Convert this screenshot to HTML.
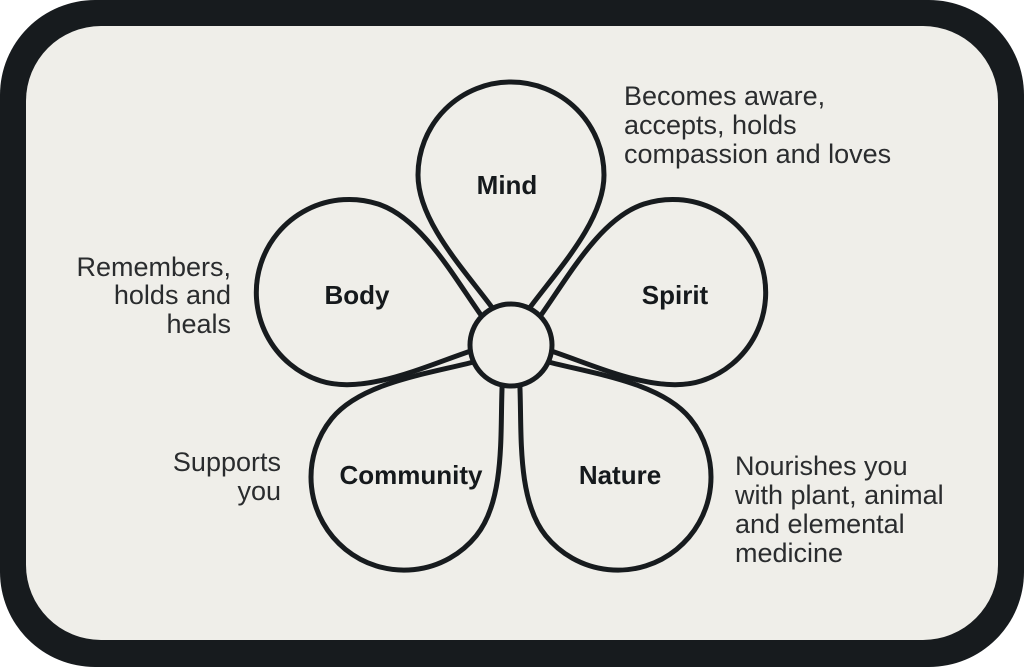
<!DOCTYPE html>
<html><head><meta charset="utf-8"><style>
html,body{margin:0;padding:0;background:#fff}
svg{display:block}
.t{font-family:"Liberation Sans",sans-serif;font-size:27px;fill:#2a2c2e}
.b{font-family:"Liberation Sans",sans-serif;font-size:26px;font-weight:bold;fill:#15191c}
</style></head><body>
<svg width="1024" height="667" viewBox="0 0 1024 667" xmlns="http://www.w3.org/2000/svg">
<rect x="0" y="0" width="1024" height="667" rx="95" fill="#171b1e"/>
<rect x="26" y="26" width="972" height="614" rx="75" fill="#efeee9"/>
<defs>
<path id="p" d="M0,-8 C-20,-50 -93,-112 -93,-170 A93,93 0 1 1 93,-170 C93,-112 20,-50 0,-8 Z" fill="#efeee9" stroke="#171b1e" stroke-width="5" stroke-linejoin="round"/>
</defs>
<g transform="translate(511,345)">
<use href="#p" transform="rotate(0)"/>
<use href="#p" transform="rotate(72)"/>
<use href="#p" transform="rotate(141)"/>
<use href="#p" transform="rotate(-141)"/>
<use href="#p" transform="rotate(-72)"/>
<circle cx="0" cy="0" r="41" fill="#efeee9" stroke="#171b1e" stroke-width="5"/>
</g>
<text class="b" x="507" y="194" text-anchor="middle">Mind</text>
<text class="b" x="357" y="304" text-anchor="middle">Body</text>
<text class="b" x="675" y="304" text-anchor="middle">Spirit</text>
<text class="b" x="411" y="484" text-anchor="middle">Community</text>
<text class="b" x="620" y="484" text-anchor="middle">Nature</text>
<text class="t" x="624" y="105">Becomes aware,</text>
<text class="t" x="624" y="134">accepts, holds</text>
<text class="t" x="624" y="163">compassion and loves</text>
<text class="t" x="231" y="276" text-anchor="end">Remembers,</text>
<text class="t" x="231" y="304" text-anchor="end">holds and</text>
<text class="t" x="231" y="333" text-anchor="end">heals</text>
<text class="t" x="281" y="471" text-anchor="end">Supports</text>
<text class="t" x="281" y="500" text-anchor="end">you</text>
<text class="t" x="735" y="475">Nourishes you</text>
<text class="t" x="735" y="504">with plant, animal</text>
<text class="t" x="735" y="533">and elemental</text>
<text class="t" x="735" y="562">medicine</text>
</svg>
</body></html>
